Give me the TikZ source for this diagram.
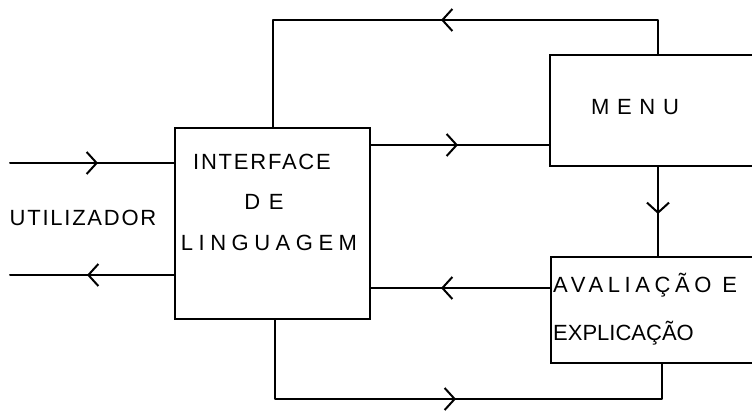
\documentclass[tikz,border=0pt]{standalone}
\usepackage{fontspec}
\setmainfont{Liberation Sans}
\usetikzlibrary{arrows.meta,decorations.markings}
\newcommand{\lettersize}{\fontsize{22}{26}\selectfont}
\tikzset{
  wire/.style={line width=2pt, line cap=round, line join=round},
  box/.style={draw, line width=2pt, inner sep=0pt},
  lettering/.style={font=\lettersize\addfontfeatures{LetterSpace=#1}, inner sep=0pt},
  lettering/.default=8,
  barb/.style={postaction={decorate}, decoration={markings,
      mark=at position #1 with {\arrow{Straight Barb[length=10pt,width=22pt]}}}}
}
\begin{document}
\begin{tikzpicture}[x=1pt,y=-1pt]
  \useasboundingbox (0,0) rectangle (752,412);
  \clip (0,0) rectangle (752,412);

  % blocks (the two right-hand blocks run off the right edge)
  \node[box, minimum width=195pt, minimum height=191pt] (iface) at (272.5,223.5) {};
  \node[box, minimum width=220pt, minimum height=111pt] (menu) at (660,110.5) {};
  \node[box, minimum width=220pt, minimum height=106pt] (aval) at (661,310) {};

  % lettering
  \node[lettering] (tinter) at (262,162) {INTERFACE};
  \node[lettering=40] (tde) at (264,202) {DE};
  \node[lettering=25] (tling) at (269,243) {LINGUAGEM};
  \node[lettering=35] (tmenu) at (635,107) {MENU};
  \node[lettering=21, anchor=west] (taval) at (553,285) {AVALIAÇÃO E};
  \node[lettering=0, anchor=west] (texpl) at (553,333) {EXPLICAÇÃO};
  \node[lettering] (tuser) at (83,218) {UTILIZADOR};

  % helper points
  \coordinate (uin) at (10,163);
  \coordinate (uout) at (10,275);
  \coordinate (rowmenu) at (0,145);
  \coordinate (rowaval) at (0,288);
  \coordinate (topL) at (273,20);
  \coordinate (topR) at (658,20);
  \coordinate (botL) at (275,399);
  \coordinate (botR) at (662,399);

  % user side
  \draw[wire, barb=88pt] (uin) -- (iface.west |- uin);
  \draw[wire, barb=87pt] (iface.west |- uout) -- (uout);

  % between the blocks
  \draw[wire, barb=87pt] (iface.east |- rowmenu) -- (menu.west |- rowmenu);
  \draw[wire, barb=109pt] (aval.west |- rowaval) -- (iface.east |- rowaval);
  \draw[wire, barb=47pt] (menu.south -| topR) -- (aval.north -| topR);

  % feedback loops
  \draw[wire, barb=251pt] (menu.north -| topR) -- (topR) -- (topL) -- (iface.north -| topL);
  \draw[wire, barb=260pt] (iface.south -| botL) -- (botL) -- (botR) -- (aval.south -| botR);
\end{tikzpicture}
\end{document}
